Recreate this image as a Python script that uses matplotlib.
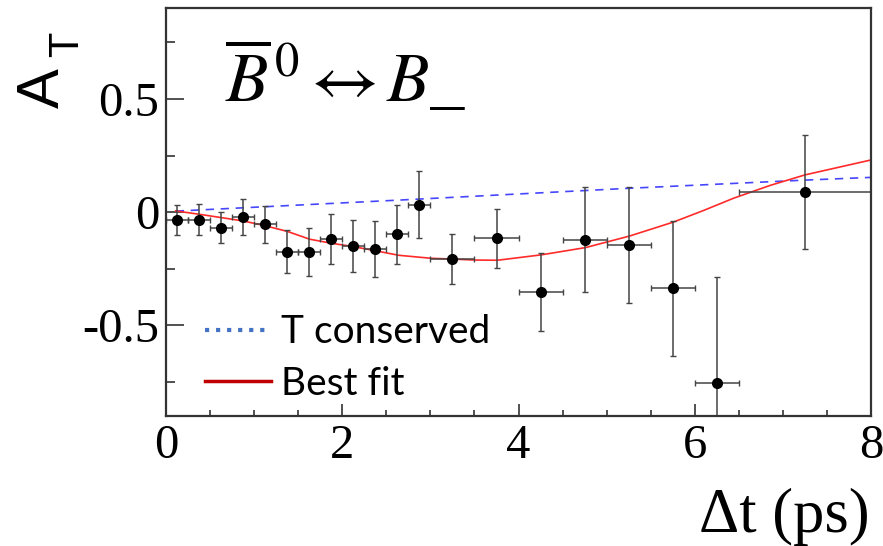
import numpy as np
import matplotlib.pyplot as plt
from matplotlib.lines import Line2D
from matplotlib.ticker import MultipleLocator

# Data: bin centres, bin half widths, A_T and errors
t_c = [0.125, 0.375, 0.625, 0.875, 1.125, 1.375, 1.625, 1.875, 2.125, 2.375,
       2.625, 2.875, 3.25, 3.75, 4.25, 4.75, 5.25, 5.75, 6.25, 7.25]
t_hw = [0.125]*12 + [0.25]*7 + [0.75]
a_t = [-0.035, -0.033, -0.068, -0.021, -0.053, -0.174, -0.174, -0.119, -0.149, -0.163,
       -0.097, 0.034, -0.206, -0.115, -0.352, -0.121, -0.143, -0.335, -0.752, 0.090]
a_err = [0.066, 0.068, 0.067, 0.078, 0.081, 0.094, 0.106, 0.110, 0.116, 0.123,
         0.130, 0.148, 0.110, 0.130, 0.172, 0.233, 0.256, 0.298, 0.465, 0.252]

# T conserved curve
tc_x = [0.11, 2.66, 5.26, 7.25, 8.0]
tc_y = [0.005, 0.054, 0.106, 0.142, 0.154]

# Best fit curve
fit_x = [0.11, 0.38, 0.87, 1.12, 1.38, 1.63, 1.88, 2.13, 2.39, 2.64, 3.0, 3.26,
         3.5, 3.76, 4.26, 4.76, 5.26, 5.76, 6.1, 6.44, 6.85, 7.25, 8.0]
fit_y = [0.006, -0.009, -0.038, -0.059, -0.085, -0.119, -0.137, -0.152, -0.171, -0.190,
         -0.203, -0.207, -0.211, -0.212, -0.188, -0.156, -0.105, -0.043, 0.008, 0.062,
         0.118, 0.165, 0.231]

plt.rcParams['mathtext.fontset'] = 'stix'

fig = plt.figure(figsize=(8.83, 5.46), dpi=100)
ax = fig.add_axes([0.188, 0.238, 0.7985, 0.7465])

ax.plot(tc_x, tc_y, color='#4646ff', lw=1.2, dashes=(5, 4))
ax.plot(fit_x, fit_y, color='#ff2a2a', lw=1.2)
ax.errorbar(t_c, a_t, xerr=t_hw, yerr=a_err, fmt='o', color='black', ms=7,
            ecolor='#444444', elinewidth=1.1, capsize=2.5, capthick=1.0)

ax.set_xlim(0, 8)
ax.set_ylim(-0.9, 0.9)
ax.xaxis.set_major_locator(MultipleLocator(2))
ax.xaxis.set_minor_locator(MultipleLocator(0.5))
ax.yaxis.set_major_locator(MultipleLocator(0.5))
ax.yaxis.set_minor_locator(MultipleLocator(0.25))
ax.tick_params(which='both', direction='in', color='#333333', width=1.2,
               labelsize=35, top=False, right=False)
ax.tick_params(axis='x', which='major', length=9, pad=6)
ax.tick_params(axis='x', which='minor', length=4)
ax.tick_params(axis='y', which='major', length=13, pad=5)
ax.tick_params(axis='y', which='minor', length=6.5)
ax.set_yticks([-0.5, 0, 0.5])
ax.set_yticklabels(['-0.5', '0', '0.5'])
ax.set_xticks([0, 2, 4, 6, 8])
ax.set_xticklabels(['0', '2', '4', '6', '8'])
for lab in ax.get_xticklabels() + ax.get_yticklabels():
    lab.set_family('Liberation Serif')
for sp in ax.spines.values():
    sp.set_linewidth(1.6)
    sp.set_color('#333333')

# title inside the frame
ax.text(0.084, 0.771, r'$\overline{B}^{\,0}\leftrightarrow B\_$', transform=ax.transAxes,
        fontsize=50, ha='left', va='baseline')

# axis titles
fig.text(0.985, 0.026, '\u0394t (ps)', family='Liberation Serif', fontsize=45,
         ha='right', va='baseline')
fig.text(0.049, 0.839, 'A', family='Liberation Sans', fontsize=43, rotation=90,
         ha='center', va='center')
fig.text(0.076, 0.918, 'T', family='Liberation Sans', fontsize=30, rotation=90,
         ha='center', va='center')

# legend
handles = [Line2D([], [], color='#4472C4', ls=':', lw=3),
           Line2D([], [], color='#C00000', lw=2.5)]
ax.legend(handles, ['T conserved', 'Best fit'], loc='upper left',
          bbox_to_anchor=(0.055, 0.25), frameon=False, prop={'family': 'Lato', 'size': 28},
          handlelength=1.7, handletextpad=0.25, labelspacing=0.41,
          borderpad=0, borderaxespad=0)

fig.savefig('out.png', dpi=100)
